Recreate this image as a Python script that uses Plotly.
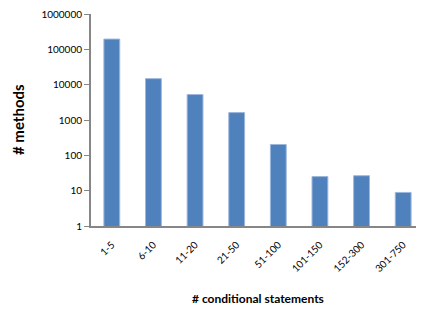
import plotly.graph_objects as go

categories = ["1-5", "6-10", "11-20", "21-50", "51-100", "101-150", "152-300", "301-750"]
methods = [195000, 14800, 5250, 1620, 203, 25, 26.5, 8.9]
y_tick_vals = [1, 10, 100, 1000, 10000, 100000, 1000000]
y_tick_text = ["1", "10", "100", "1000", "10000", "100000", "1000000"]

fig = go.Figure(go.Bar(
    x=categories, y=methods,
    marker=dict(color="#4F81BD", line=dict(color="#9DB6DA", width=1)),
    width=0.38,
))

# page body has an 8px default margin; compensate in figure size/margins
font_family = "Lato, Open Sans, Liberation Sans, sans-serif"
fig.update_layout(
    width=416, height=306,
    margin=dict(l=83, r=0, t=6, b=88),
    paper_bgcolor="white", plot_bgcolor="white",
    showlegend=False,
    font=dict(family=font_family, size=10, color="black"),
    xaxis=dict(
        type="category", tickangle=-45, showline=True, linecolor="#868686", linewidth=2,
        ticks="outside", ticklen=7, tickcolor="rgba(0,0,0,0)", tickfont=dict(size=10), showgrid=False,
        automargin=False, range=[-0.5, 7.5], ticklabeloverflow="allow",
    ),
    yaxis=dict(
        type="log", range=[0, 6], tickvals=y_tick_vals, ticktext=y_tick_text,
        showline=True, linecolor="#868686", linewidth=2, ticks="outside", ticklen=5,
        tickcolor="#868686", showgrid=False, tickfont=dict(size=10), automargin=False,
        ticklabeloverflow="allow",
    ),
    annotations=[
        dict(text="<b># conditional statements</b>", xref="paper", yref="paper",
             showarrow=False, font=dict(size=12), xanchor="center", yanchor="middle"),
        dict(text="<b># methods</b>", xref="paper", yref="paper",
             showarrow=False, font=dict(size=15), textangle=-90,
             xanchor="center", yanchor="middle"),
    ],
)
# page pixel positions -> paper coords (plot area spans page x 91..424, y 14..226)
pw = 333
ph = 212
fig.layout.annotations[0].x = (258 - 91) / pw
fig.layout.annotations[0].y = (226 - 298) / ph
fig.layout.annotations[1].x = (18 - 91) / pw
fig.layout.annotations[1].y = (226 - 120) / ph

fig.write_html("out.html")
